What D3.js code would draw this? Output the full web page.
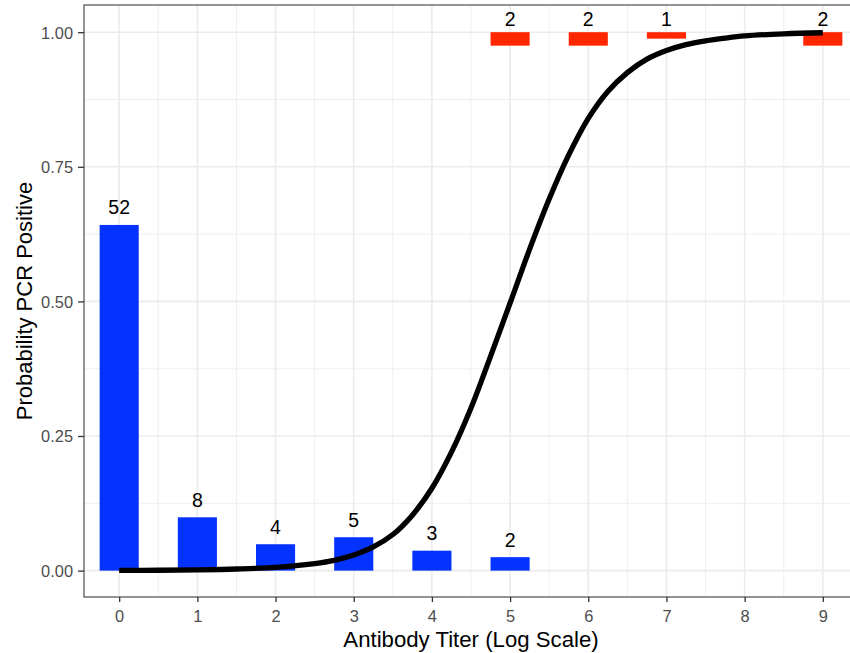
<!DOCTYPE html>
<html>
<head>
<meta charset="utf-8">
<script src="https://cdn.jsdelivr.net/npm/d3@7"></script>
<style>
  body { margin: 0; background: #fff; }
  svg text { font-family: "Liberation Sans", Arial, Helvetica, sans-serif; }
</style>
</head>
<body>
<div id="chart"></div>
<script>
// PCR negative: proportion at each titer, and the counts printed above
const negTiter = [0, 1, 2, 3, 4, 5];
const negProp = [0.642, 0.099, 0.049, 0.062, 0.037, 0.025];
const negCount = [52, 8, 4, 5, 3, 2];

// PCR positive: bars hanging down from 1.00
const posTiter = [5, 6, 7, 9];
const posProp = [0.025, 0.025, 0.012, 0.025];
const posCount = [2, 2, 1, 2];

// fitted curve
const curveX = [0, 0.5, 1, 1.5, 2, 2.5, 2.75, 3, 3.25, 3.5, 3.75, 4, 4.25, 4.5, 4.75, 5,
  5.25, 5.5, 5.75, 6, 6.25, 6.5, 6.75, 7, 7.25, 7.5, 7.75, 8, 8.5, 9];
const curveP = [0.0003, 0.0007, 0.0015, 0.003, 0.006, 0.013, 0.019, 0.029, 0.044, 0.067, 0.103, 0.153,
  0.220, 0.302, 0.398, 0.497, 0.597, 0.690, 0.772, 0.840, 0.890, 0.925, 0.950, 0.966, 0.977,
  0.984, 0.989, 0.993, 0.997, 0.999];

const xTicks = [0, 1, 2, 3, 4, 5, 6, 7, 8, 9];
const yTicks = [0, 0.25, 0.5, 0.75, 1];

const width = 850;
const height = 653;
const panel = { left: 84, right: 858, top: 5, bottom: 597 };
const barHalf = 0.25;
const blue = '#0433ff';
const red = '#ff2600';

const svg = d3.select('#chart').append('svg')
    .attr('width', width)
    .attr('height', height);

const x = d3.scaleLinear().domain([-0.45, 9.45]).range([panel.left, panel.right]);
const y = d3.scaleLinear().domain([-0.049, 1.0505]).range([panel.bottom, panel.top]);

const grid = svg.append('g');
// minor grid
const xMinor = xTicks.slice(0, -1).map(t => t + 0.5);
const yMinor = yTicks.slice(0, -1).map(t => t + 0.125);
grid.selectAll('.xminor').data(xMinor).join('line')
    .attr('x1', d => x(d)).attr('x2', d => x(d))
    .attr('y1', panel.top).attr('y2', panel.bottom)
    .attr('stroke', '#ebebeb').attr('stroke-width', 0.8);
grid.selectAll('.yminor').data(yMinor).join('line')
    .attr('y1', d => y(d)).attr('y2', d => y(d))
    .attr('x1', panel.left).attr('x2', panel.right)
    .attr('stroke', '#ebebeb').attr('stroke-width', 0.8);
// major grid
grid.selectAll('.xmajor').data(xTicks).join('line')
    .attr('x1', d => x(d)).attr('x2', d => x(d))
    .attr('y1', panel.top).attr('y2', panel.bottom)
    .attr('stroke', '#ebebeb').attr('stroke-width', 1.6);
grid.selectAll('.ymajor').data(yTicks).join('line')
    .attr('y1', d => y(d)).attr('y2', d => y(d))
    .attr('x1', panel.left).attr('x2', panel.right)
    .attr('stroke', '#ebebeb').attr('stroke-width', 1.6);

// negative bars
svg.append('g').selectAll('rect').data(negTiter).join('rect')
    .attr('x', d => x(d - barHalf))
    .attr('width', d => x(d + barHalf) - x(d - barHalf))
    .attr('y', (d, i) => y(negProp[i]))
    .attr('height', (d, i) => y(0) - y(negProp[i]))
    .attr('fill', blue);

// positive bars
svg.append('g').selectAll('rect').data(posTiter).join('rect')
    .attr('x', d => x(d - barHalf))
    .attr('width', d => x(d + barHalf) - x(d - barHalf))
    .attr('y', y(1))
    .attr('height', (d, i) => y(1 - posProp[i]) - y(1))
    .attr('fill', red);

// count labels
svg.append('g').selectAll('text').data(negTiter).join('text')
    .attr('x', d => x(d))
    .attr('y', (d, i) => y(negProp[i]) - 10.5)
    .attr('text-anchor', 'middle')
    .style('font-size', '19.5px')
    .attr('fill', '#000')
    .text((d, i) => negCount[i]);
svg.append('g').selectAll('text').data(posTiter).join('text')
    .attr('x', d => x(d))
    .attr('y', y(1) - 6.6)
    .attr('text-anchor', 'middle')
    .style('font-size', '19.5px')
    .attr('fill', '#000')
    .text((d, i) => posCount[i]);

// fitted curve
const line = d3.line()
    .x((d, i) => x(curveX[i]))
    .y(d => y(d))
    .curve(d3.curveCatmullRom);
svg.append('path')
    .datum(curveP)
    .attr('d', line)
    .attr('fill', 'none')
    .attr('stroke', '#000')
    .attr('stroke-width', 5.3)
    .attr('stroke-linecap', 'butt');

// panel border
svg.append('rect')
    .attr('x', panel.left).attr('y', panel.top)
    .attr('width', panel.right - panel.left)
    .attr('height', panel.bottom - panel.top)
    .attr('fill', 'none')
    .attr('stroke', '#5a5a5a')
    .attr('stroke-width', 1.3);

// axes
const xAxis = svg.append('g')
    .attr('transform', 'translate(0,' + panel.bottom + ')')
    .call(d3.axisBottom(x).tickValues(xTicks).tickFormat(d3.format('d')).tickSize(5).tickPadding(8));
const yAxis = svg.append('g')
    .attr('transform', 'translate(' + panel.left + ',0)')
    .call(d3.axisLeft(y).tickValues(yTicks).tickFormat(d3.format('.2f')).tickSize(6).tickPadding(5));
[xAxis, yAxis].forEach(a => {
    a.select('.domain').remove();
    a.selectAll('.tick line').attr('stroke', '#333').attr('stroke-width', 1.3);
    a.selectAll('.tick text')
        .attr('fill', '#4d4d4d')
        .style('font-size', '16.4px')
        .style('font-family', '"Liberation Sans", Arial, sans-serif');
});
yAxis.selectAll('.tick text').attr('dy', '0.36em');

// axis titles
svg.append('text')
    .attr('x', (panel.left + panel.right) / 2)
    .attr('y', 646.5)
    .attr('text-anchor', 'middle')
    .style('font-size', '22.2px')
    .attr('fill', '#000')
    .text('Antibody Titer (Log Scale)');
svg.append('text')
    .attr('transform', 'translate(32,' + ((panel.top + panel.bottom) / 2) + ') rotate(-90)')
    .attr('text-anchor', 'middle')
    .style('font-size', '22px')
    .attr('fill', '#000')
    .text('Probability PCR Positive');
</script>
</body>
</html>
